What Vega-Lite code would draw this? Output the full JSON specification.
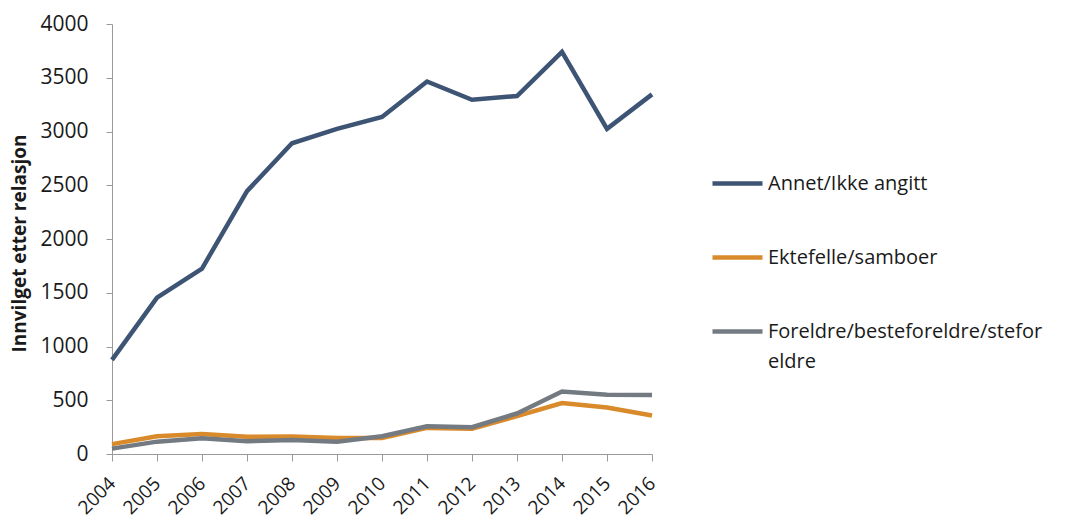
{
  "$schema": "https://vega.github.io/schema/vega-lite/v6.json",
  "width": 540,
  "height": 430,
  "autosize": "none",
  "padding": {"left": 112, "top": 24, "right": 415, "bottom": 71},
  "background": "white",
  "config": {
    "font": "Open Sans",
    "view": {"stroke": null}
  },
  "data": {
    "values": [
      {"year": "2004", "series": "Annet/Ikke angitt", "value": 875},
      {"year": "2005", "series": "Annet/Ikke angitt", "value": 1455},
      {"year": "2006", "series": "Annet/Ikke angitt", "value": 1725},
      {"year": "2007", "series": "Annet/Ikke angitt", "value": 2445},
      {"year": "2008", "series": "Annet/Ikke angitt", "value": 2890},
      {"year": "2009", "series": "Annet/Ikke angitt", "value": 3025},
      {"year": "2010", "series": "Annet/Ikke angitt", "value": 3135},
      {"year": "2011", "series": "Annet/Ikke angitt", "value": 3465},
      {"year": "2012", "series": "Annet/Ikke angitt", "value": 3295},
      {"year": "2013", "series": "Annet/Ikke angitt", "value": 3330},
      {"year": "2014", "series": "Annet/Ikke angitt", "value": 3740},
      {"year": "2015", "series": "Annet/Ikke angitt", "value": 3025},
      {"year": "2016", "series": "Annet/Ikke angitt", "value": 3345},
      {"year": "2004", "series": "Ektefelle/samboer", "value": 92},
      {"year": "2005", "series": "Ektefelle/samboer", "value": 165},
      {"year": "2006", "series": "Ektefelle/samboer", "value": 185},
      {"year": "2007", "series": "Ektefelle/samboer", "value": 160},
      {"year": "2008", "series": "Ektefelle/samboer", "value": 162},
      {"year": "2009", "series": "Ektefelle/samboer", "value": 150},
      {"year": "2010", "series": "Ektefelle/samboer", "value": 150},
      {"year": "2011", "series": "Ektefelle/samboer", "value": 243},
      {"year": "2012", "series": "Ektefelle/samboer", "value": 234},
      {"year": "2013", "series": "Ektefelle/samboer", "value": 352},
      {"year": "2014", "series": "Ektefelle/samboer", "value": 474},
      {"year": "2015", "series": "Ektefelle/samboer", "value": 433},
      {"year": "2016", "series": "Ektefelle/samboer", "value": 358},
      {"year": "2004", "series": "Foreldre/besteforeldre/steforeldre", "value": 50},
      {"year": "2005", "series": "Foreldre/besteforeldre/steforeldre", "value": 115},
      {"year": "2006", "series": "Foreldre/besteforeldre/steforeldre", "value": 147},
      {"year": "2007", "series": "Foreldre/besteforeldre/steforeldre", "value": 118},
      {"year": "2008", "series": "Foreldre/besteforeldre/steforeldre", "value": 131},
      {"year": "2009", "series": "Foreldre/besteforeldre/steforeldre", "value": 115},
      {"year": "2010", "series": "Foreldre/besteforeldre/steforeldre", "value": 165},
      {"year": "2011", "series": "Foreldre/besteforeldre/steforeldre", "value": 258},
      {"year": "2012", "series": "Foreldre/besteforeldre/steforeldre", "value": 250},
      {"year": "2013", "series": "Foreldre/besteforeldre/steforeldre", "value": 377},
      {"year": "2014", "series": "Foreldre/besteforeldre/steforeldre", "value": 582},
      {"year": "2015", "series": "Foreldre/besteforeldre/steforeldre", "value": 551},
      {"year": "2016", "series": "Foreldre/besteforeldre/steforeldre", "value": 549}
    ]
  },
  "mark": {"type": "line", "strokeWidth": 4.5, "strokeJoin": "miter"},
  "encoding": {
    "x": {
      "field": "year",
      "type": "ordinal",
      "scale": {"type": "point", "padding": 0},
      "axis": {
        "title": null,
        "domainColor": "#9a9a9a",
        "tickColor": "#9a9a9a",
        "tickSize": 7,
        "labelAngle": -45,
        "labelAlign": "right",
        "labelBaseline": "middle",
        "labelFontSize": 19,
        "labelColor": "#1a1a1a",
        "labelPadding": 19,
        "grid": false
      }
    },
    "y": {
      "field": "value",
      "type": "quantitative",
      "scale": {"domain": [0, 4000], "nice": false},
      "axis": {
        "title": "Innvilget etter relasjon",
        "titleFontSize": 19,
        "titleFontWeight": "bold",
        "titleColor": "#1a1a1a",
        "titleX": -93,
        "titleY": 219,
        "titleBaseline": "middle",
        "titleAlign": "center",
        "values": [0, 500, 1000, 1500, 2000, 2500, 3000, 3500, 4000],
        "format": "d",
        "domainColor": "#9a9a9a",
        "tickColor": "#9a9a9a",
        "tickSize": 6,
        "labelPadding": 18,
        "labelFontSize": 21,
        "labelColor": "#1a1a1a",
        "grid": false
      }
    },
    "color": {
      "field": "series",
      "type": "nominal",
      "scale": {
        "domain": ["Annet/Ikke angitt", "Ektefelle/samboer", "Foreldre/besteforeldre/steforeldre"],
        "range": ["#3d5474", "#d98a2b", "#737a82"]
      },
      "legend": {
        "title": null,
        "orient": "none",
        "legendX": 598,
        "legendY": 132,
        "symbolType": "stroke",
        "symbolSize": 2500,
        "symbolStrokeWidth": 4.5,
        "labelFontSize": 20,
        "labelColor": "#1a1a1a",
        "labelOffset": 3,
        "labelLimit": 400,
        "rowPadding": 36,
        "labelExpr": "datum.label == 'Foreldre/besteforeldre/steforeldre' ? ['Foreldre/besteforeldre/stefor', 'eldre'] : datum.label",
        "labelBaseline": "middle",
        "encode": {"labels": {"update": {"lineHeight": {"value": 30}}}}
      }
    }
  }
}
